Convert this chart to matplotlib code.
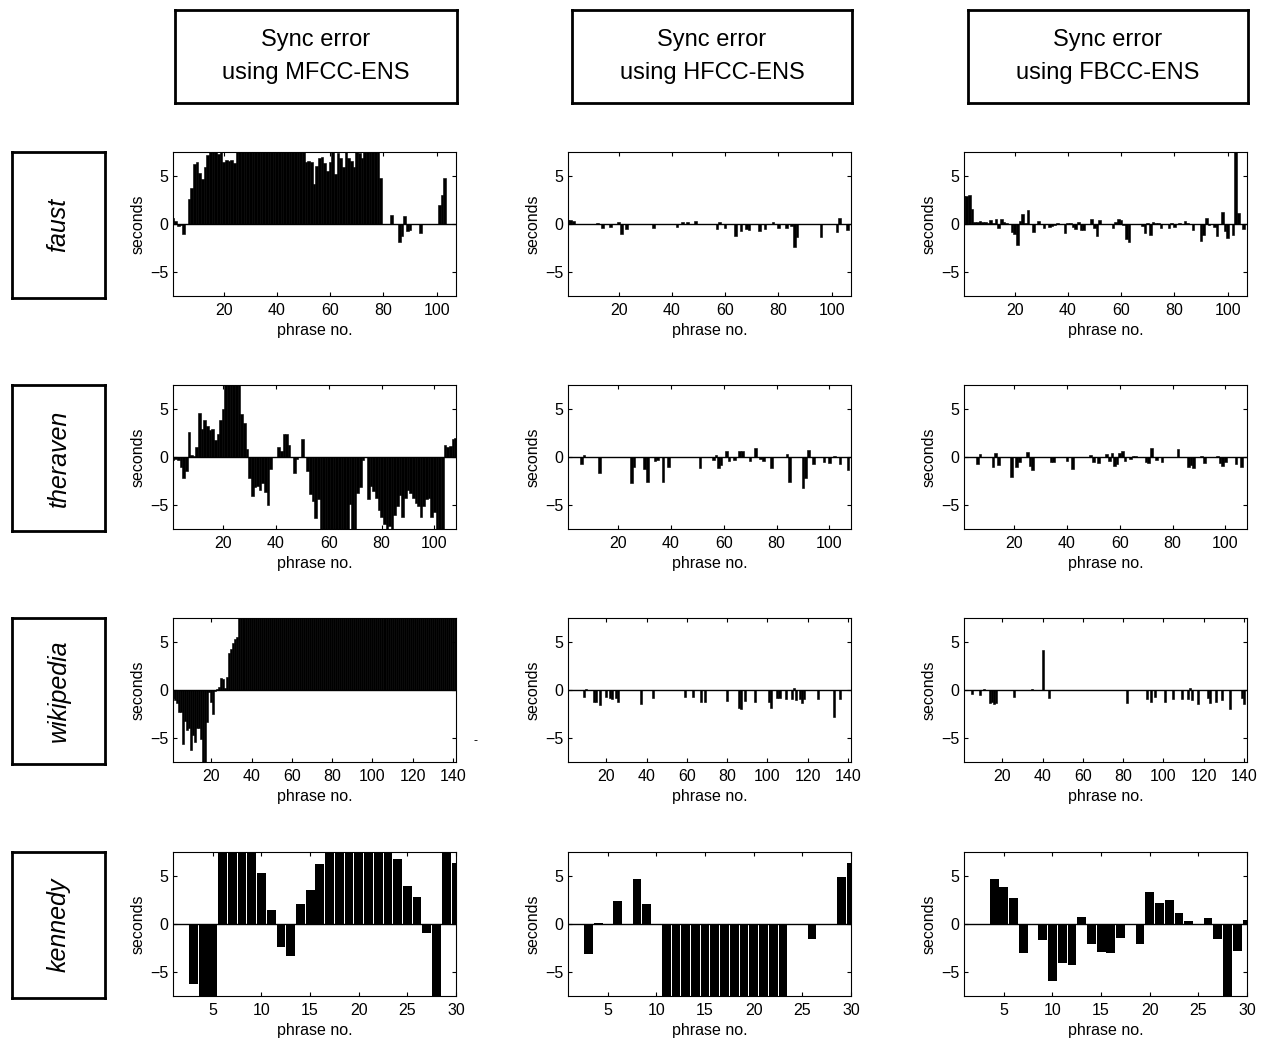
import numpy as np
import matplotlib.pyplot as plt

plt.rcParams['font.family'] = ['Liberation Sans', 'DejaVu Sans']

methods = ['MFCC-ENS', 'HFCC-ENS', 'FBCC-ENS']
pieces = ['faust', 'theraven', 'wikipedia', 'kennedy']
x_ticks = [[20, 40, 60, 80, 100], [20, 40, 60, 80, 100],
           [20, 40, 60, 80, 100, 120, 140], [5, 10, 15, 20, 25, 30]]

# sync error in seconds, one value per phrase (bars beyond +-7.5 are clipped)
faust_mfcc = [0.6, 0.3, -0.2, -0.1, -1.0, 0.0, 2.6, 3.8, 6.2, 6.5,
              5.3, 4.7, 5.9, 7.2, 7.5, 7.5, 7.5, 7.3, 7.5, 6.5,
              6.7, 6.6, 6.7, 6.4, 7.5, 7.5, 7.5, 7.5, 7.5, 7.5,
              7.5, 7.5, 7.5, 7.5, 7.5, 7.5, 7.5, 7.5, 7.5, 7.5,
              7.5, 7.5, 7.5, 7.5, 7.5, 7.5, 7.5, 7.5, 7.5, 7.5,
              6.5, 6.6, 6.5, 4.2, 6.0, 6.9, 7.0, 6.4, 5.5, 6.5,
              7.5, 5.2, 7.4, 6.9, 5.9, 7.5, 6.9, 6.6, 5.9, 7.5,
              7.4, 6.9, 7.5, 7.5, 7.5, 7.5, 7.5, 7.5, 4.8, 0.0,
              0.0, 0.0, 0.9, 0.0, 0.0, -1.9, -1.2, 0.8, -0.7, -0.6,
              0.0, 0.0, 0.0, -0.9, 0.0, 0.0, 0.0, 0.0, 0.0, 0.0,
              2.0, 3.0, 4.8, 0.0, 0.0, 0.0, 0.0]
faust_hfcc_x = [1, 2, 3, 12, 14, 17, 20, 21, 23, 33, 42, 44, 46, 49, 57, 58, 60,
                64, 66, 68, 69, 73, 75, 78, 80, 83, 85, 86, 87, 96, 102, 103, 106]
faust_hfcc_y = [0.4, 0.4, 0.3, 0.1, -0.4, -0.3, 0.2, -1.0, -0.5, -0.4, -0.3, 0.2,
                0.2, 0.3, -0.5, 0.2, -0.4, -1.3, -0.7, -0.5, -0.6, -0.7, -0.5, 0.2,
                -0.4, -0.4, -0.2, -2.4, -1.4, -1.4, -0.8, 0.6, -0.6]
faust_fbcc = [2.9, 2.9, 3.0, 1.6, 0.2, 0.2, 0.3, 0.2, 0.2, 0.1,
              0.4, 0.1, 0.5, -0.4, 0.5, 0.2, 0.1, 0.0, -0.8, -1.0,
              -2.2, 0.3, 1.0, 0.1, 1.5, 0.0, -0.8, 0.0, 0.3, 0.0,
              -0.4, 0.0, -0.3, -0.2, -0.1, 0.1, 0.0, 0.0, -0.9, 0.1,
              0.1, -0.3, -0.5, 0.2, -0.6, -0.6, 0.0, 0.0, 0.5, -0.4,
              -1.3, 0.4, 0.0, 0.0, 0.0, 0.0, -0.4, 0.2, 0.5, 0.4,
              -0.1, -1.6, -1.9, 0.0, 0.0, 0.0, 0.0, -0.2, -0.9, 0.1,
              -1.1, 0.2, 0.1, 0.1, -0.4, 0.0, 0.0, -0.4, 0.1, -0.3,
              0.0, 0.1, 0.0, 0.3, 0.1, 0.0, -0.6, 0.0, 0.0, -1.8,
              -1.1, 0.6, -0.1, 0.0, -0.3, -1.3, 0.0, 1.3, -0.7, -1.5,
              0.0, -1.1, 7.5, 1.1, 0.0, -0.5, 0.0]

theraven_mfcc = [-0.3, -0.2, -0.3, -1.0, -2.2, -1.5, 2.6, 0.2, 0.1, 1.0,
                 4.6, 2.9, 3.9, 3.2, 2.8, 2.9, 1.8, 2.4, 3.9, 5.0,
                 7.5, 7.5, 7.5, 7.5, 7.5, 7.5, 4.5, 3.5, 0.8, -2.2,
                 -4.1, -3.1, -3.0, -3.4, -2.7, -3.6, -5.0, -1.3, 0.0, 0.0,
                 1.0, 0.6, 2.4, 2.4, 1.2, 0.0, -1.7, -0.2, 0.0, 1.9,
                 0.0, -1.5, -3.9, -4.6, -6.4, -4.4, -7.5, -7.5, -7.5, -7.5,
                 -7.5, -7.5, -7.5, -7.5, -7.5, -7.5, -7.5, -4.9, -7.5, -7.5,
                 -3.8, -3.1, -0.3, 0.0, -4.4, -3.0, -3.5, -4.3, -5.5, -6.2,
                 -7.0, -7.5, -7.2, -7.5, -6.0, -5.1, -4.0, -6.2, -4.3, -3.4,
                 -3.8, -4.3, -4.8, -5.1, -6.2, -5.1, -4.4, -4.3, -6.2, -5.7,
                 -7.5, -7.5, -7.5, 1.2, 1.0, 1.1, 1.9, 2.0]
theraven_hfcc_x = [6, 7, 13, 25, 26, 30, 31, 34, 35, 37, 39, 51, 56, 57, 58, 59,
                   61, 62, 64, 66, 67, 70, 72, 74, 75, 78, 84, 85, 90, 91, 92, 94,
                   98, 100, 102, 104, 107]
theraven_hfcc_y = [-0.7, 0.2, -1.7, -2.7, -1.0, -1.3, -2.6, -0.4, -0.3, -2.6, -1.0,
                   -1.1, -0.3, 0.2, -1.1, -0.8, 0.6, -0.4, -0.3, 0.6, 0.6, -0.4,
                   0.9, -0.2, -0.4, -1.1, 0.3, -2.6, -3.2, -2.2, 0.7, -0.7, -0.5,
                   -0.6, 0.1, -0.7, -1.4]
theraven_fbcc_x = [6, 7, 12, 13, 14, 19, 21, 22, 25, 26, 27, 34, 35, 40, 42, 49,
                   50, 52, 55, 56, 57, 58, 59, 60, 61, 62, 64, 65, 66, 70, 71, 72,
                   74, 76, 82, 86, 87, 88, 91, 92, 97, 98, 99, 100, 104, 106]
theraven_fbcc_y = [-0.7, 0.3, -1.0, 0.4, -0.8, -2.1, -1.0, -0.5, 0.5, -0.9, -1.4,
                   -0.5, -0.5, -0.4, -1.2, 0.2, -0.5, -0.6, 0.3, -0.4, 0.4, -0.9,
                   -0.7, 0.4, 0.6, -0.4, -0.2, 0.1, 0.1, -0.5, -0.6, 0.9, -0.3,
                   -0.5, 0.8, -1.0, -0.8, -1.1, 0.1, -0.6, 0.1, -0.6, -0.9, -0.5,
                   -0.7, -1.0]

wiki_mfcc = [-0.8, -1.0, -1.4, -2.3, -2.3, -5.6, -3.2, -4.2, -4.0, -6.3,
             -4.7, -5.4, -4.0, -4.0, -5.1, -7.5, -7.5, -3.3, -0.2, -1.3,
             -2.5, -0.1, 0.1, 0.3, 1.2, 1.1, 0.2, 1.4, 3.9, 4.3,
             4.9, 5.3, 5.5, 7.5, 7.5, 7.5, 7.5, 7.5, 7.5, 7.5,
             7.5, 7.5, 7.5, 7.5, 7.5, 7.5, 7.5, 7.5, 7.5, 7.5,
             7.5, 7.5, 7.5, 7.5, 7.5, 7.5, 7.5, 7.5, 7.5, 7.5,
             7.5, 7.5, 7.5, 7.5, 7.5, 7.5, 7.5, 7.5, 7.5, 7.5,
             7.5, 7.5, 7.5, 7.5, 7.5, 7.5, 7.5, 7.5, 7.5, 7.5,
             7.5, 7.5, 7.5, 7.5, 7.5, 7.5, 7.5, 7.5, 7.5, 7.5,
             7.5, 7.5, 7.5, 7.5, 7.5, 7.5, 7.5, 7.5, 7.5, 7.5,
             7.5, 7.5, 7.5, 7.5, 7.5, 7.5, 7.5, 7.5, 7.5, 7.5,
             7.5, 7.5, 7.5, 7.5, 7.5, 7.5, 7.5, 7.5, 7.5, 7.5,
             7.5, 7.5, 7.5, 7.5, 7.5, 7.5, 7.5, 7.5, 7.5, 7.5,
             7.5, 7.5, 7.5, 7.5, 7.5, 7.5, 7.5, 7.5, 7.5, 7.5,
             7.5]
wiki_hfcc_x = [9, 10, 14, 15, 17, 20, 22, 23, 25, 26, 37, 43, 59, 63, 67, 69, 80,
               86, 87, 89, 94, 101, 102, 105, 106, 109, 112, 113, 114, 116, 117,
               118, 125, 133, 136]
wiki_hfcc_y = [-0.7, 0.1, -1.3, -1.2, -1.6, -0.7, -0.8, -0.9, -0.8, -1.2, -1.5,
               -0.8, -0.7, -0.7, -1.3, -1.3, -1.1, -1.9, -2.0, -1.1, -1.3, -1.2,
               -1.9, -0.8, -0.8, -0.9, -0.9, 0.2, -1.0, -0.9, -1.4, -0.9, -0.9,
               -2.8, -0.9]
wiki_fbcc_x = [5, 9, 11, 14, 15, 16, 17, 26, 35, 40, 43, 82, 92, 94, 96, 101, 105,
               109, 112, 113, 114, 117, 122, 123, 126, 129, 133, 139, 140]
wiki_fbcc_y = [-0.4, -0.5, 0.1, -1.4, -1.3, -1.5, -1.4, -0.7, 0.1, 4.2, -0.8,
               -1.4, -0.9, -1.3, -0.7, -1.2, -0.9, -0.9, -0.9, 0.2, -1.0, -1.5,
               -0.8, -1.4, -1.3, -1.0, -2.0, -0.8, -1.5]

kennedy_mfcc = [0.0, 0.0, -6.3, -7.5, -7.5, 7.5, 7.5, 7.5, 7.5, 5.3,
                1.5, -2.4, -3.3, 2.1, 3.5, 6.3, 7.5, 7.5, 7.5, 7.5,
                7.5, 7.5, 7.5, 6.8, 4.0, 2.8, -0.9, -7.5, 7.5, 6.4]
kennedy_hfcc = [0.0, 0.0, -3.1, 0.1, 0.0, 2.4, 0.0, 4.7, 2.1, 0.0,
                -7.5, -7.5, -7.5, -7.5, -7.5, -7.5, -7.5, -7.5, -7.5, -7.5,
                -7.5, -7.5, -7.5, 0.0, 0.0, -1.6, 0.0, 0.0, 4.9, 6.4]
kennedy_fbcc = [0.0, 0.0, 0.0, 4.7, 3.9, 2.7, -3.0, 0.0, -1.7, -5.9,
                -4.1, -4.3, 0.7, -2.1, -2.9, -3.0, -1.5, 0.0, -2.1, 3.3,
                2.2, 2.5, 1.1, 0.3, 0.0, 0.6, -1.6, -7.5, -2.8, 0.4]


def full(values):
    return np.arange(1, len(values) + 1), values


panels = [
    [full(faust_mfcc), (faust_hfcc_x, faust_hfcc_y), full(faust_fbcc)],
    [full(theraven_mfcc), (theraven_hfcc_x, theraven_hfcc_y), (theraven_fbcc_x, theraven_fbcc_y)],
    [full(wiki_mfcc), (wiki_hfcc_x, wiki_hfcc_y), (wiki_fbcc_x, wiki_fbcc_y)],
    [full(kennedy_mfcc), full(kennedy_hfcc), full(kennedy_fbcc)],
]
x_lims = [(1, 107.3), (1, 108.2), (1, 141.5), (0.9, 30)]

W, H = 1262, 1038
fig = plt.figure(figsize=(W / 100, H / 100), dpi=100)


def px_axes(l, t, r, b):
    return fig.add_axes([l / W, 1 - b / H, (r - l) / W, (b - t) / H])


col_l = [173, 568, 964]
col_r = [456, 851, 1247]
row_t = [152, 385, 618, 852]
row_b = [296, 529, 762, 996]

for r in range(4):
    for c in range(3):
        ax = px_axes(col_l[c], row_t[r], col_r[c], row_b[r])
        x, y = panels[r][c]
        if r < 3:
            # many phrases: bars touch, drawn with a thin edge so blocks stay solid
            ax.bar(x, y, width=1.0, color='k', edgecolor='k', linewidth=0.4)
        else:
            ax.bar(x, y, width=0.9, color='k', linewidth=0)
        ax.axhline(0, color='k', lw=1)
        ax.set_xlim(*x_lims[r])
        ax.set_ylim(-7.5, 7.5)
        ax.set_xticks(x_ticks[r])
        ax.set_yticks([-5, 0, 5])
        ax.tick_params(direction='in', top=True, right=True, length=3,
                       width=0.8, labelsize=11.5)
        ax.tick_params(axis='x', pad=5)
        for s in ax.spines.values():
            s.set_linewidth(0.8)
        ax.set_ylabel('seconds', fontsize=11.5, labelpad=3)
        ax.set_xlabel('phrase no.', fontsize=11.5, labelpad=3.5)

# column headers
head_l = [175, 572, 968]
head_r = [457, 852, 1248]
for c in range(3):
    hb = px_axes(head_l[c], 10, head_r[c], 103)
    hb.set_xticks([])
    hb.set_yticks([])
    for s in hb.spines.values():
        s.set_linewidth(2)
    hb.text(0.5, 0.5, 'Sync error\nusing ' + methods[c], ha='center', va='center',
            fontsize=17, linespacing=1.6, transform=hb.transAxes)

# row labels
for r in range(4):
    rb = px_axes(12, row_t[r], 105, row_b[r] + 2)
    rb.set_xticks([])
    rb.set_yticks([])
    for s in rb.spines.values():
        s.set_linewidth(2)
    rb.text(0.5, 0.5, pieces[r], ha='center', va='center', rotation=90,
            fontsize=18, style='italic', transform=rb.transAxes)

fig.text(475 / W, 1 - 741 / H, '-', fontsize=9, ha='center', va='center')

fig.savefig('out.png', dpi=100)
